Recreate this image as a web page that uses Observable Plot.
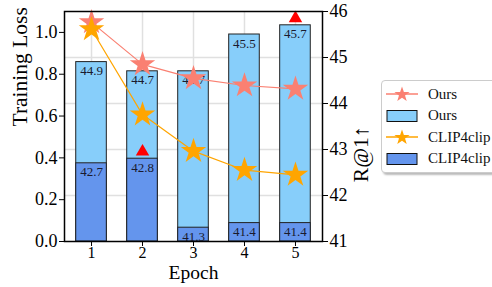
<!DOCTYPE html>
<html><head><meta charset="utf-8">
<script src="https://cdn.jsdelivr.net/npm/d3@7"></script>
<script src="https://cdn.jsdelivr.net/npm/@observablehq/plot@0.6"></script>
<style>
body{margin:0;background:#fff;}
#wrap{position:relative;width:492px;height:287px;font-family:"Liberation Serif",serif;}
#legend{position:absolute;left:381px;top:80px;width:125px;height:91px;border:1px solid #ccc;border-radius:4px;background:#fff;box-shadow:2px 2px 2px #bbb;}
.item{position:absolute;left:4px;height:20px;display:flex;align-items:center;font-size:15px;color:#111;}
.item svg{margin-right:10px;}
</style>
</head><body><div id="wrap"><div id="legend"></div></div>
<script>
const epochs = [1, 2, 3, 4, 5];
const oursLoss = [1.048, 0.847, 0.78, 0.746, 0.73];
const clipLoss = [1.014, 0.607, 0.432, 0.341, 0.319];
const oursR1 = [44.9, 44.7, 44.7, 45.5, 45.7];
const clipR1 = [42.7, 42.8, 41.3, 41.4, 41.4];
const bestOursEpoch = [5];
const bestClipEpoch = [2];
const lossTicks = [0, 0.2, 0.4, 0.6, 0.8, 1.0];
const r1Ticks = [41, 42, 43, 44, 45, 46];
const seriesNames = ["Ours", "CLIP4clip"];

const R_MIN = 41, R_MAX = 46, L_MAX = 1.1;
const toY = r => (r - R_MIN) / (R_MAX - R_MIN) * L_MAX;
const fromY = y => Math.round(y / L_MAX * (R_MAX - R_MIN) + R_MIN);

const C_OURS_LINE = "#fa8072", C_CLIP_LINE = "#ffa500";
const C_OURS_BAR = "#87cefa", C_CLIP_BAR = "#6495ed";

const rows = epochs.map((e, i) => ({epoch: e, oursLoss: oursLoss[i], clipLoss: clipLoss[i], oursR1: oursR1[i], clipR1: clipR1[i]}));
const half = 0.3;

const plot = Plot.plot({
  width: 492, height: 287,
  marginLeft: 64, marginRight: 170, marginTop: 11, marginBottom: 46,
  style: "font-family:'Liberation Serif',serif;background:#fff;color:#000;overflow:visible;",
  x: {type: "linear", domain: [0.47, 5.53]},
  y: {domain: [0, L_MAX]},
  marks: [
    Plot.ruleY(r1Ticks.slice(1, -1), {y: d => toY(d), stroke: "#e0e0e0", strokeWidth: 1.5}),
    Plot.ruleX(epochs, {x: d => d, stroke: "#e0e0e0", strokeWidth: 1.5}),
    Plot.rect(rows, {x1: d => d.epoch - half, x2: d => d.epoch + half, y1: 0, y2: d => toY(d.oursR1), fill: C_OURS_BAR, stroke: "#222", strokeWidth: 1}),
    Plot.rect(rows, {x1: d => d.epoch - half, x2: d => d.epoch + half, y1: 0, y2: d => toY(d.clipR1), fill: C_CLIP_BAR, stroke: "#222", strokeWidth: 1}),
    Plot.text(rows, {x: "epoch", y: d => toY(d.oursR1), text: d => d.oursR1.toFixed(1), dy: 9, fontSize: 13, fill: "#1a1a2e"}),
    Plot.text(rows, {x: "epoch", y: d => toY(d.clipR1), text: d => d.clipR1.toFixed(1), dy: 9, fontSize: 13, fill: "#1a1a2e"}),
    Plot.dot(rows.filter(d => bestOursEpoch.includes(d.epoch)), {x: "epoch", y: d => toY(d.oursR1), symbol: "triangle", r: 5, fill: "red", dy: -7}),
    Plot.dot(rows.filter(d => bestClipEpoch.includes(d.epoch)), {x: "epoch", y: d => toY(d.clipR1), symbol: "triangle", r: 5, fill: "red", dy: -7}),
    Plot.line(rows, {x: "epoch", y: "oursLoss", stroke: C_OURS_LINE, strokeWidth: 1.2}),
    Plot.dot(rows, {x: "epoch", y: "oursLoss", symbol: "star", r: 8, fill: C_OURS_LINE, stroke: "none"}),
    Plot.line(rows, {x: "epoch", y: "clipLoss", stroke: C_CLIP_LINE, strokeWidth: 1.2}),
    Plot.dot(rows, {x: "epoch", y: "clipLoss", symbol: "star", r: 8, fill: C_CLIP_LINE, stroke: "none"}),
    Plot.frame({stroke: "#000", strokeWidth: 1.5}),
    Plot.axisX({ticks: epochs, tickFormat: d => String(d), fontSize: 16, tickSize: 5, label: null, tickPadding: 0}),
    Plot.axisY({ticks: lossTicks, tickFormat: d3.format(".1f"), fontSize: 18, tickSize: 5, label: null, tickPadding: 2}),
    Plot.axisY({anchor: "right", ticks: r1Ticks.map(toY), tickFormat: fromY, fontSize: 18, tickSize: 5, label: null, tickPadding: 2}),
    Plot.text(["Training Loss"], {frameAnchor: "left", dx: -44, rotate: -90, fontSize: 21.5, fill: "#000"}),
    Plot.text(["Epoch"], {frameAnchor: "bottom", dy: 37.5, fontSize: 19.5, fill: "#000"}),
    Plot.text(["R@1\u2191"], {frameAnchor: "right", dx: 39, rotate: -90, fontSize: 21.5, fill: "#000"})
  ]
});
document.getElementById("wrap").prepend(plot);
d3.select(plot).selectAll("text").style("font-family", "'Liberation Serif', serif");

const legend = document.getElementById("legend");
const items = [
  {type: "line", color: C_OURS_LINE, label: seriesNames[0]},
  {type: "bar", color: C_OURS_BAR, label: seriesNames[0]},
  {type: "line", color: C_CLIP_LINE, label: seriesNames[1]},
  {type: "bar", color: C_CLIP_BAR, label: seriesNames[1]}
];
const starPath = (cx, cy, R) => {
  const r = R * 0.4; let p = "";
  for (let k = 0; k < 10; k++) {
    const a = -Math.PI / 2 + k * Math.PI / 5, rr = k % 2 ? r : R;
    p += (k ? "L" : "M") + (cx + rr * Math.cos(a)).toFixed(2) + "," + (cy + rr * Math.sin(a)).toFixed(2);
  }
  return p + "Z";
};
items.forEach((it, i) => {
  const div = document.createElement("div");
  div.className = "item";
  div.style.top = (3 + i * 21.5) + "px";
  const sw = it.type === "line"
    ? `<svg width="32" height="20"><line x1="0" y1="10" x2="32" y2="10" stroke="${it.color}" stroke-width="1.5"/><path d="${starPath(16, 10.5, 8)}" fill="${it.color}"/></svg>`
    : `<svg width="32" height="20"><rect x="1" y="4.5" width="30" height="11" fill="${it.color}" stroke="#111" stroke-width="1"/></svg>`;
  div.innerHTML = sw + `<span>${it.label}</span>`;
  legend.appendChild(div);
});
</script>
</body></html>
